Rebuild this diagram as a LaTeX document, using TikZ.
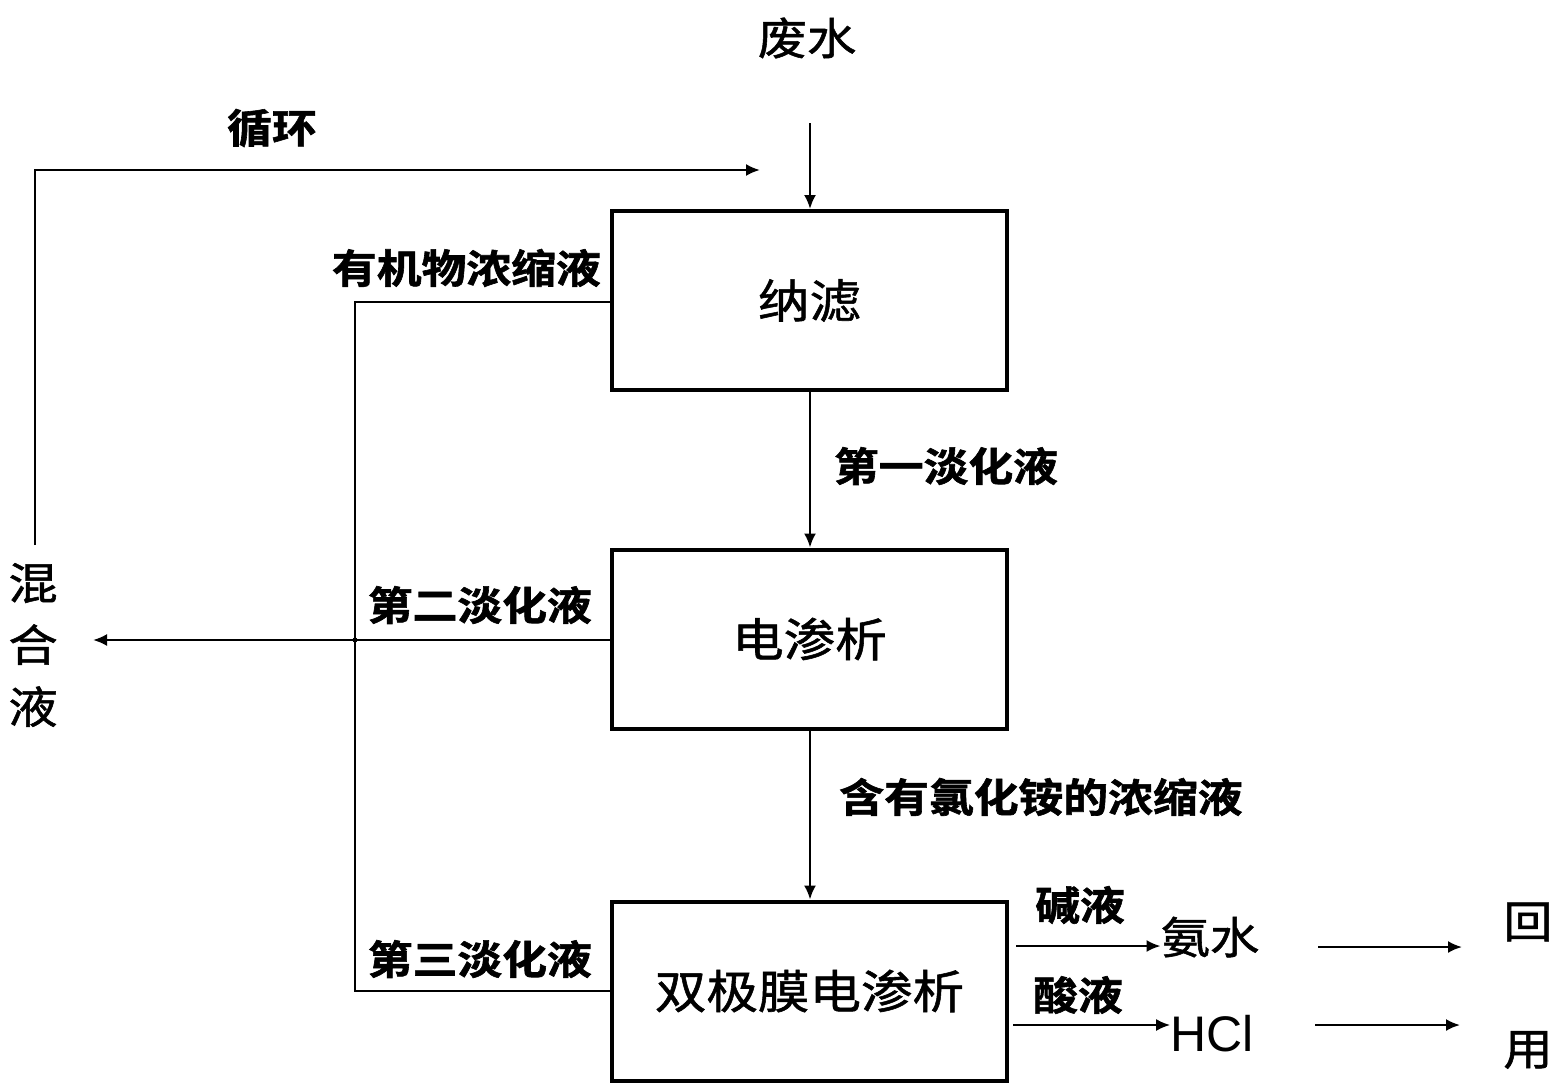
\documentclass[tikz,border=0pt]{standalone}
\usepackage{fontspec}
\setmainfont{Liberation Sans}
\newfontfamily\cjk[FakeStretch=1.12]{Noto Sans CJK SC}
\newfontfamily\cjkm[FakeStretch=1.12,FakeBold=1.2]{Noto Sans CJK SC}
\newfontfamily\cjkb[FakeStretch=1.12,FakeBold=1.5]{Noto Sans CJK SC Bold}
\usetikzlibrary{arrows.meta}
\begin{document}
\begin{tikzpicture}[x=1pt,y=-1pt,
  box/.style={draw,line width=4pt,minimum width=395pt,minimum height=179pt,inner sep=0pt,font=\cjkm\fontsize{46}{50}\selectfont},
  lab/.style={inner sep=0pt,font=\cjkb\fontsize{40}{44}\selectfont},
  txt/.style={inner sep=0pt,font=\cjkm\fontsize{44}{48}\selectfont},
  ln/.style={line width=2.2pt},
  arr/.style={line width=2.2pt,-{Latex[length=14pt,width=12pt]}}]
\useasboundingbox (0,0) rectangle (1556,1090);
\node[box] (nf) at (809.5,300.5) {纳滤};
\node[box] (ed) at (809.5,639) {电渗析};
\node[box] (bp) at (809.5,991) {双极膜电渗析};
\node[txt] (fs) at (807,38) {废水};
\coordinate (fstop) at (810,123);
\draw[arr] (fstop) -- (nf.north -| fstop);
\node[lab] (xh) at (272,128) {循环};
\coordinate (loopL) at (35,170);
\coordinate (loopB) at (35,545);
\coordinate (loopR) at (760,170);
\draw[arr] (loopB) -- (loopL) -- (loopR);
\node[txt,align=center] (hhy) at (33,645) {混\\[14pt]合\\[14pt]液};
\coordinate (b1) at (355,302);
\coordinate (b2) at (355,640);
\coordinate (b3) at (355,991);
\draw[ln] (nf.west |- b1) -- (b1) -- (b3) -- (bp.west |- b3);
\draw[ln] (ed.west |- b2) -- (b2);
\fill (b2) circle (2.5pt);
\coordinate (mixend) at (93,640);
\draw[arr] (b2) -- (mixend);
\node[lab,anchor=east] (l1) at (601,268) {有机物浓缩液};
\node[lab,anchor=east] (l2) at (592,605) {第二淡化液};
\node[lab,anchor=east] (l3) at (592,959) {第三淡化液};
\draw[arr] (nf.south -| 810,0) -- (ed.north -| 810,0);
\node[lab] (d1) at (946,466) {第一淡化液};
\draw[arr] (ed.south -| 810,0) -- (bp.north -| 810,0);
\node[lab] (c1) at (1041,797) {含有氯化铵的浓缩液};
\node[txt] (as) at (1210,937) {氨水};
\node[inner sep=0pt,font=\fontsize{50}{54}\selectfont] (hcl) at (1212,1034) {HCl};
\draw[arr] (1016,946) -- (as.west |- 0,946);
\draw[arr] (1013,1025) -- (hcl.west |- 0,1025);
\node[lab] (jy) at (1080,905) {碱液};
\node[lab] (sy) at (1078,995) {酸液};
\node[txt] (hui) at (1528,922) {回};
\node[txt] (yong) at (1528,1050) {用};
\coordinate (r1a) at (1318,947);
\coordinate (r1b) at (1462,947);
\coordinate (r2a) at (1315,1025);
\coordinate (r2b) at (1460,1025);
\draw[arr] (r1a) -- (r1b);
\draw[arr] (r2a) -- (r2b);
\end{tikzpicture}
\end{document}
